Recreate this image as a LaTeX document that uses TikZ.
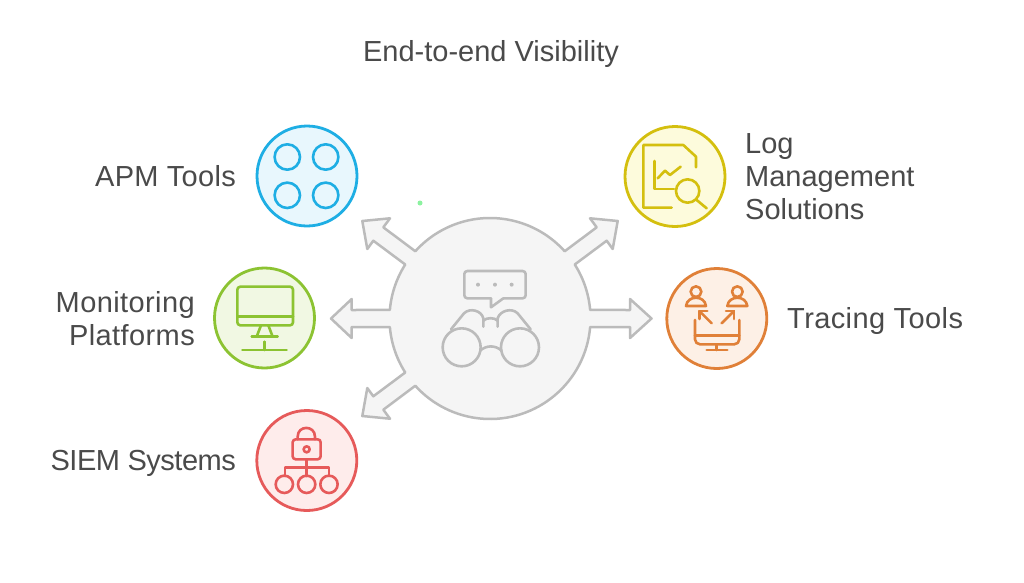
\documentclass[tikz,border=0pt]{standalone}
\usepackage{fontspec}
\setmainfont{Liberation Sans}
\definecolor{txt}{HTML}{4A4A4A}
\definecolor{hubl}{HTML}{BBBBBB}
\definecolor{hubf}{HTML}{F5F5F5}
\definecolor{dotc}{HTML}{8CF2A0}
\definecolor{bl}{HTML}{1EAEE4}\definecolor{blf}{HTML}{E8F7FD}
\definecolor{yl}{HTML}{D4BF0E}\definecolor{ylf}{HTML}{FDFBDC}
\definecolor{og}{HTML}{E08038}\definecolor{ogf}{HTML}{FDF0E6}
\definecolor{gr}{HTML}{8CC332}\definecolor{grf}{HTML}{F1F8E3}
\definecolor{rd}{HTML}{E65A5A}\definecolor{rdf}{HTML}{FEECEB}
\tikzset{
 lbl/.style={text=txt,font=\fontsize{29}{33}\selectfont,inner sep=0pt},
 disc/.style={circle,draw=#1,fill=#1f,line width=2.8pt,minimum size=100pt,inner sep=0pt},
 icon/.style={line width=2.6pt,line cap=round,line join=round},
 zoomed/.style={x=0.3333pt,y=-0.3333pt},
}
\newcommand{\spaced}[1]{\addfontfeature{LetterSpace=#1}}
\begin{document}
\begin{tikzpicture}[x=1pt,y=-1pt]
\useasboundingbox (0,0) rectangle (1024,582);
\fill[white] (0,0) rectangle (1024,582);
\node[lbl] (title) at (491,54) {End-to-end Visibility};
\node[circle,fill=dotc,minimum size=5pt,inner sep=0pt] (dot) at (420,203) {};

% hub with arrows
\begin{scope}[shift={(490,318.5)},y=1pt]
\draw[hubl,fill=hubf,line width=2.5pt,line join=round]
 (42:100.5pt) -- (106.7,91.2) -- (100,100.2) -- (127.7,97.5) -- (122.7,69.5) -- (116.7,77.8) -- (32.5:100.5pt)
 arc[start angle=32.5,end angle=4.9,radius=100.5pt]
 -- (140,8.5) -- (140,19.5) -- (161.5,0) -- (140,-19.5) -- (140,-8.5) -- (-4.9:100.5pt)
 arc[start angle=-4.9,end angle=-138,radius=100.5pt]
 -- (-106.7,-91.2) -- (-100,-100.2) -- (-127.7,-97.5) -- (-122.7,-69.5) -- (-116.7,-77.8) -- (-147.5:100.5pt)
 arc[start angle=-147.5,end angle=-175.1,radius=100.5pt]
 -- (-138.3,-8.5) -- (-138.3,-19.5) -- (-159,0) -- (-138.3,19.5) -- (-138.3,8.5) -- (-184.9:100.5pt)
 arc[start angle=-184.9,end angle=-212.5,radius=100.5pt]
 -- (-116.7,77.8) -- (-122.7,69.5) -- (-127.7,97.5) -- (-100,100.2) -- (-106.7,91.2) -- (-222:100.5pt)
 arc[start angle=-222,end angle=-318,radius=100.5pt] -- cycle;
\end{scope}

% hub icon
\begin{scope}[shift={(340,190)},zoomed,icon,hubl]
\draw[rounded corners=3pt] (453,325) -- (373,325) -- (373,243) -- (557,243) -- (557,325) -- (490,325);
\draw (453,325) -- (453,352) -- (490,325);
\fill (414,284) circle[radius=6];
\fill (465,284) circle[radius=6];
\fill (515,284) circle[radius=6];
\draw (365,472) circle[radius=57];
\draw (540,472) circle[radius=57];
\draw (420,482) .. controls (440,465) and (465,465) .. (485,482);
\draw (333,418) -- (372,370) .. controls (390,352) and (425,362) .. (430,385) -- (430,410);
\draw (430,392) .. controls (440,382) and (463,382) .. (473,392);
\draw (572,418) -- (533,370) .. controls (515,352) and (480,362) .. (473,385) -- (473,410);
\end{scope}

% discs
\node[disc=bl] (apm) at (307,176) {};
\node[disc=yl] (log) at (675,176.5) {};
\node[disc=og] (trace) at (716.8,318.5) {};
\node[disc=gr] (mon) at (264.5,318) {};
\node[disc=rd] (siem) at (306.8,460.5) {};

% APM icon
\begin{scope}[icon,bl]
\draw (287.3,157) circle[radius=12.7];
\draw (325.7,157) circle[radius=12.7];
\draw (287.3,195.3) circle[radius=12.7];
\draw (325.7,195.3) circle[radius=12.7];
\end{scope}

% Log icon
\begin{scope}[shift={(610,115)},zoomed,icon,yl]
\draw (185,278) -- (100,278) -- (100,90) -- (220,90) -- (258,125) -- (258,157);
\draw (133,138) -- (133,222) -- (192,222);
\draw (143,190) -- (165,167) -- (180,180) -- (212,155);
\draw (233,228) circle[radius=35];
\draw (260,255) -- (290,280);
\end{scope}

% Tracing icon
\begin{scope}[shift={(610,115)},zoomed,icon,og]
\draw (258,530) circle[radius=16];
\draw (382,530) circle[radius=16];
\draw (228,573) .. controls (232,540) and (284,540) .. (288,573) -- cycle;
\draw (352,573) .. controls (356,540) and (408,540) .. (412,573) -- cycle;
\draw (305,625) -- (268,588);
\draw (268,612) -- (268,588) -- (292,588);
\draw (335,625) -- (372,588);
\draw (348,588) -- (372,588) -- (372,612);
\draw[rounded corners=5pt] (255,615) -- (255,688) -- (388,688) -- (388,615);
\draw (255,662) -- (388,662);
\draw (320,688) -- (320,705);
\draw (290,705) -- (352,705);
\end{scope}

% Monitoring icon
\begin{scope}[shift={(205,260)},zoomed,icon,gr]
\draw[rounded corners=3pt] (97,80) rectangle (264,196);
\draw (97,170) -- (264,170);
\draw (168,196) -- (155,230);
\draw (190,196) -- (203,230);
\draw (140,230) -- (218,230);
\draw (178,245) -- (178,270);
\draw (112,270) -- (245,270);
\end{scope}

% SIEM icon
\begin{scope}[shift={(205,260)},zoomed,icon,rd]
\draw[rounded corners=3pt] (263,538) rectangle (347,598);
\draw (278,538) -- (278,530) .. controls (278,495) and (330,495) .. (330,530) -- (330,538);
\draw (305,568) circle[radius=9];
\draw (305,598) -- (305,648);
\draw (240,648) -- (240,623) -- (372,623) -- (372,648);
\draw (238,673) circle[radius=26];
\draw (305,673) circle[radius=26];
\draw (372,673) circle[radius=26];
\end{scope}

% labels
\node[lbl,anchor=east] (lapm) at (236,176) {\spaced{1}APM Tools};
\node[lbl,anchor=east,align=right] (lmon) at (195,318.5) {\spaced{1.4}Monitoring\\\spaced{1.4}Platforms};
\node[lbl,anchor=east] (lsiem) at (236,463) {\spaced{-1.7}SIEM Systems};
\node[lbl,anchor=west,align=left] (llog) at (745,176.5) {Log\\Management\\Solutions};
\node[lbl,anchor=west] (ltrace) at (787,321) {\spaced{1.4}Tracing Tools};
\end{tikzpicture}
\end{document}
